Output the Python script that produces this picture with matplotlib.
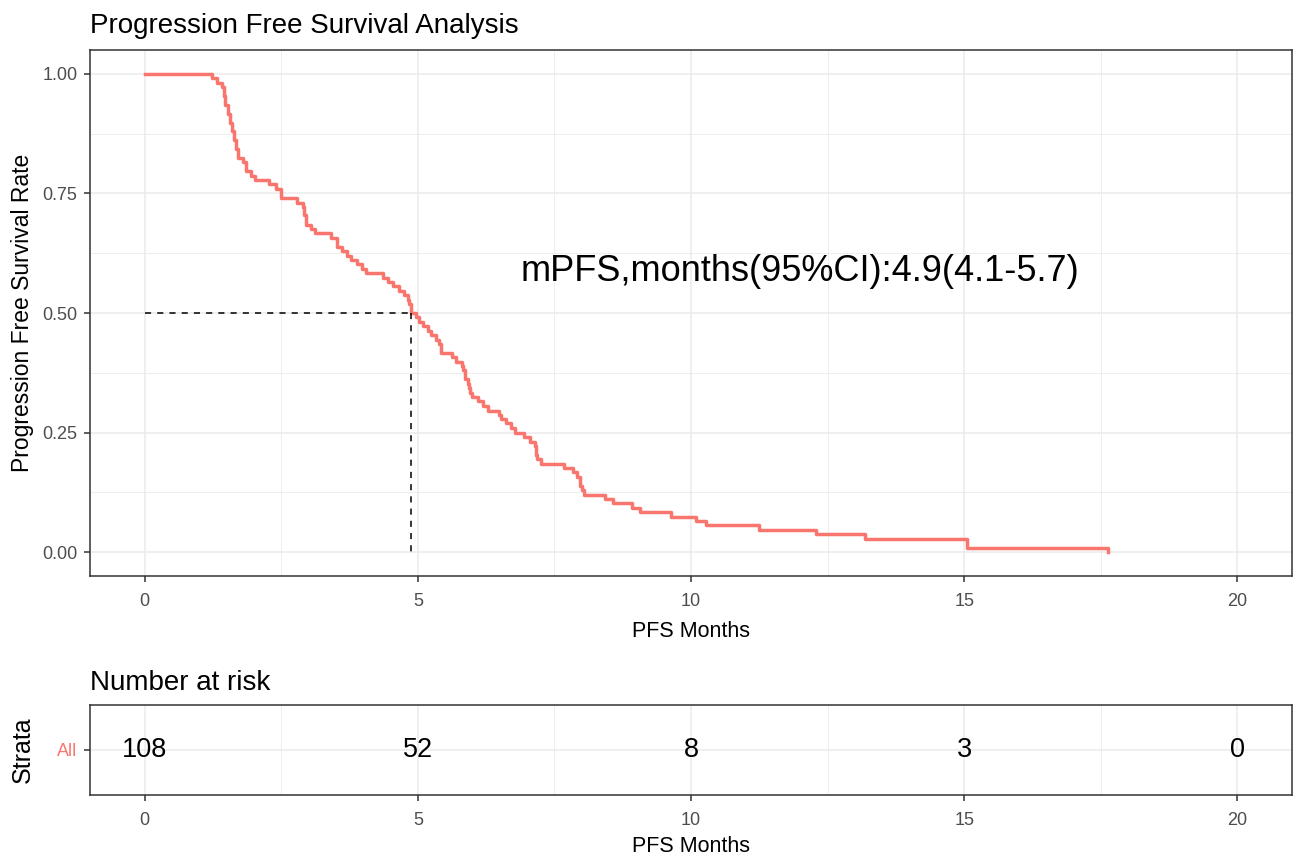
import numpy as np
import matplotlib
matplotlib.use("Agg")
from matplotlib import pyplot as plt
from matplotlib.ticker import MultipleLocator

plt.rcParams['font.family'] = ['Liberation Sans', 'DejaVu Sans']

# KM step points (time in months, survival after the drop)
km_time = [0, 1.24, 1.32, 1.42, 1.45, 1.48, 1.52, 1.56, 1.60, 1.64, 1.67, 1.70,
           1.80, 1.86, 1.95, 2.02, 2.28, 2.40, 2.50, 2.78, 2.90, 2.92, 2.95, 3.05,
           3.12, 3.42, 3.52, 3.62, 3.70, 3.78, 3.88, 3.97, 4.06, 4.36, 4.45, 4.55,
           4.65, 4.75, 4.82, 4.84, 4.88, 4.96, 5.03, 5.10, 5.18, 5.25, 5.33, 5.38,
           5.43, 5.62, 5.70, 5.80, 5.83, 5.87, 5.91, 5.94, 5.96, 5.99, 6.10, 6.20,
           6.28, 6.48, 6.52, 6.62, 6.70, 6.78, 6.95, 7.05, 7.14, 7.16, 7.18, 7.26,
           7.68, 7.84, 7.92, 7.96, 8.00, 8.04, 8.42, 8.57, 8.92, 9.06, 9.64, 10.09,
           10.28, 11.25, 12.28, 13.18, 15.05, 17.63]
km_surv = [1.000, 0.991, 0.981, 0.972, 0.954, 0.935, 0.917, 0.898, 0.880, 0.861, 0.843, 0.824,
           0.815, 0.796, 0.787, 0.778, 0.769, 0.759, 0.741, 0.731, 0.722, 0.704, 0.685, 0.676,
           0.667, 0.657, 0.639, 0.630, 0.620, 0.611, 0.602, 0.593, 0.583, 0.574, 0.565, 0.556,
           0.546, 0.537, 0.528, 0.519, 0.500, 0.491, 0.481, 0.472, 0.463, 0.454, 0.444, 0.435,
           0.417, 0.407, 0.398, 0.389, 0.380, 0.361, 0.352, 0.343, 0.333, 0.324, 0.315, 0.306,
           0.296, 0.287, 0.278, 0.269, 0.259, 0.250, 0.241, 0.231, 0.222, 0.204, 0.194, 0.185,
           0.176, 0.167, 0.157, 0.139, 0.130, 0.120, 0.111, 0.102, 0.093, 0.083, 0.074, 0.065,
           0.056, 0.046, 0.037, 0.028, 0.0093, 0.0]

median_pfs = 4.88
median_label = "mPFS,months(95%CI):4.9(4.1-5.7)"

risk_times = [0, 5, 10, 15, 20]
risk_counts = [108, 52, 8, 3, 0]

red = '#F8766D'
grid_col = '#EBEBEB'
tick_col = '#4D4D4D'

fig = plt.figure(figsize=(12.94, 8.57), dpi=100)
ax = fig.add_axes([90/1294, (857-576)/857, 1202/1294, 526/857])
ax2 = fig.add_axes([90/1294, (857-795)/857, 1202/1294, 90/857])

def style(a):
    a.set_xlim(-1, 21)
    a.xaxis.set_major_locator(MultipleLocator(5))
    a.xaxis.set_minor_locator(MultipleLocator(2.5))
    a.grid(which='major', color=grid_col, lw=1.1)
    a.grid(which='minor', color=grid_col, lw=0.6)
    a.set_axisbelow(True)
    for s in a.spines.values():
        s.set_color('#333333')
        s.set_linewidth(1.1)
    a.tick_params(which='major', length=4, width=1.1, color='#333333',
                  labelcolor=tick_col, labelsize=13)
    a.tick_params(axis='x', pad=8)
    a.tick_params(axis='y', pad=5)
    a.tick_params(which='minor', length=0)

style(ax)
ax.set_ylim(-0.05, 1.05)
ax.yaxis.set_minor_locator(MultipleLocator(0.125))
ax.set_yticks([0, 0.25, 0.5, 0.75, 1.0])
ax.set_yticklabels(['0.00', '0.25', '0.50', '0.75', '1.00'])

ax.step(km_time, km_surv, where='post', color=red, lw=2.5)
ax.plot([0, median_pfs], [0.5, 0.5], color='black', lw=1.1, ls=(0, (4, 4)))
ax.plot([median_pfs, median_pfs], [0.5, 0], color='black', lw=1.1, ls=(0, (4, 4)))
ax.text(12, 0.586, median_label, ha='center', va='center', fontsize=26, color='black')

ax.set_title("Progression Free Survival Analysis", loc='left', fontsize=20, pad=12)
ax.set_xlabel("PFS Months", fontsize=15.5, labelpad=8)
ax.set_ylabel("Progression Free Survival Rate", fontsize=16.5, labelpad=6)

# number at risk table
style(ax2)
ax2.set_ylim(0.5, 1.5)
ax2.set_yticks([1])
ax2.set_yticklabels(['All'])
ax2.get_yticklabels()[0].set_color(red)
for t, n in zip(risk_times, risk_counts):
    ax2.text(t, 1, str(n), ha='center', va='center', fontsize=19.5, color='black')
ax2.set_title("Number at risk", loc='left', fontsize=20, pad=11)
ax2.set_xlabel("PFS Months", fontsize=15.5, labelpad=5)
ax2.set_ylabel("Strata", fontsize=18, labelpad=16)

fig.savefig("out.png", dpi=100)
